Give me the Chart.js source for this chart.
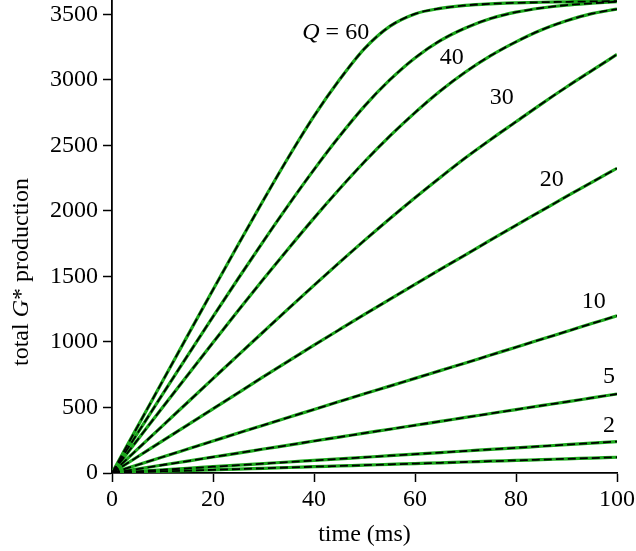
<!DOCTYPE html>
<html>
<head>
<meta charset="utf-8">
<script src="https://cdn.jsdelivr.net/npm/chart.js@4.4.1/dist/chart.umd.min.js"></script>
<style>
    html, body { margin: 0; padding: 0; background: #fff; }
    #wrap { width: 636px; height: 551px; position: relative; }
</style>
</head>
<body>
<div id="wrap"><canvas id="chart" width="636" height="551"></canvas></div>
<script>
// ── Dados ──
const tempos = [0, 5, 10, 15, 20, 25, 30, 35, 40, 45, 50, 55, 60, 65, 70, 75, 80, 85, 90, 95, 100];

const q60 = [0, 350, 700, 1050, 1398, 1743, 2083, 2413, 2723, 2998, 3238, 3408, 3503, 3545, 3568, 3580, 3587, 3592, 3595, 3598, 3600];
const q50 = [0, 300, 600, 898, 1193, 1484, 1770, 2048, 2315, 2567, 2799, 2999, 3167, 3299, 3396, 3468, 3516, 3548, 3570, 3584, 3596];
const q40 = [0, 250, 500, 748, 995, 1240, 1480, 1715, 1945, 2165, 2375, 2570, 2750, 2915, 3060, 3185, 3290, 3380, 3450, 3505, 3540];
const q30 = [0, 180, 360, 540, 720, 900, 1078, 1256, 1432, 1605, 1775, 1940, 2100, 2255, 2405, 2545, 2680, 2815, 2945, 3070, 3194];
const q20 = [0, 122, 245, 367, 490, 612, 735, 855, 975, 1093, 1210, 1325, 1440, 1553, 1665, 1778, 1890, 2000, 2110, 2218, 2325];
const q10 = [0, 61, 122, 183, 244, 305, 365, 425, 485, 545, 605, 663, 722, 781, 840, 900, 960, 1020, 1080, 1140, 1200];
const q5  = [0, 30, 61, 91, 122, 152, 183, 213, 244, 274, 304, 334, 364, 394, 424, 454, 484, 514, 543, 573, 603];
const q2  = [0, 12, 24, 36, 48, 60, 72, 84, 96, 108, 120, 132, 144, 156, 168, 180, 192, 204, 216, 228, 240];
const q1  = [0, 6, 12, 18, 24, 30, 36, 42, 48, 54, 60, 66, 72, 78, 84, 90, 96, 102, 108, 114, 120];

const series = [q60, q50, q40, q30, q20, q10, q5, q2, q1];

const xTicks = [0, 20, 40, 60, 80, 100];
const yTicks = [0, 500, 1000, 1500, 2000, 2500, 3000, 3500];

// rótulos das curvas: texto e posição em coordenadas de dados
const rotulos = [
    { q: true,  txt: '60', t: 44.3, v: 3357 },
    { q: false, txt: '40', t: 67.3, v: 3167 },
    { q: false, txt: '30', t: 77.2, v: 2861 },
    { q: false, txt: '20', t: 87.1, v: 2236 },
    { q: false, txt: '10', t: 95.4, v: 1305 },
    { q: false, txt: '5',  t: 98.4, v: 733 },
    { q: false, txt: '2',  t: 98.4, v: 359 },
];

const VERDE = '#1ca81c';
const FONTE = '"Liberation Serif", "DejaVu Serif", serif';
const TAM = 24;

function pontos(vals) {
    return vals.map((v, i) => ({ x: tempos[i], y: v }));
}

const datasets = [];
series.forEach(vals => {
    datasets.push({
        data: pontos(vals),
        borderColor: '#000',
        borderWidth: 1.8,
        borderDash: [8, 4],
        pointRadius: 0,
        cubicInterpolationMode: 'monotone',
        order: 0,
    });
    datasets.push({
        data: pontos(vals),
        borderColor: VERDE,
        borderWidth: 3.2,
        pointRadius: 0,
        cubicInterpolationMode: 'monotone',
        order: 1,
    });
});

// ── Títulos dos eixos e rótulos das curvas ──
const textos = {
    id: 'textos',
    afterDraw(chart) {
        const { ctx, scales: { x, y }, chartArea } = chart;
        const normal = `${TAM}px ${FONTE}`;
        const italico = `italic ${TAM}px ${FONTE}`;
        ctx.save();
        ctx.fillStyle = '#000';
        ctx.textBaseline = 'middle';

        // eixo x
        ctx.font = normal;
        ctx.textAlign = 'center';
        ctx.fillText('time (ms)', (chartArea.left + chartArea.right) / 2, 535);

        // eixo y (com G em itálico)
        ctx.save();
        ctx.translate(22, 272);
        ctx.rotate(-Math.PI / 2);
        const partes = [['total ', normal], ['G', italico], ['* production', normal]];
        let total = 0;
        partes.forEach(([s, f]) => { ctx.font = f; total += ctx.measureText(s).width; });
        let px = -total / 2;
        ctx.textAlign = 'left';
        partes.forEach(([s, f]) => {
            ctx.font = f;
            ctx.fillText(s, px, 0);
            px += ctx.measureText(s).width;
        });
        ctx.restore();

        // rótulos
        rotulos.forEach(r => {
            const cx = x.getPixelForValue(r.t);
            const cy = y.getPixelForValue(r.v);
            if (r.q) {
                const a = 'Q', b = ' = ' + r.txt;
                ctx.font = italico;
                const wa = ctx.measureText(a).width;
                ctx.font = normal;
                const wb = ctx.measureText(b).width;
                const sx = cx - (wa + wb) / 2;
                ctx.textAlign = 'left';
                ctx.font = italico;
                ctx.fillText(a, sx, cy);
                ctx.font = normal;
                ctx.fillText(b, sx + wa, cy);
            } else {
                ctx.font = normal;
                ctx.textAlign = 'center';
                ctx.fillText(r.txt, cx, cy);
            }
        });
        ctx.restore();
    }
};

new Chart(document.getElementById('chart'), {
    type: 'line',
    data: { datasets },
    plugins: [textos],
    options: {
        responsive: false,
        animation: false,
        events: [],
        layout: { padding: { left: 0, right: 19, top: 0, bottom: 0 } },
        plugins: { legend: { display: false }, tooltip: { enabled: false } },
        scales: {
            x: {
                type: 'linear',
                min: 0,
                max: 100,
                afterBuildTicks: s => { s.ticks = xTicks.map(v => ({ value: v })); },
                afterFit: s => { s.height = 78; s.paddingLeft = 0; s.paddingRight = 0; },
                ticks: {
                    color: '#000',
                    font: { family: FONTE, size: TAM },
                    padding: 3,
                    maxRotation: 0,
                    callback: v => String(v),
                },
                grid: { drawOnChartArea: false, drawTicks: true, tickLength: 9, color: '#000', tickWidth: 1.5 },
                border: { display: true, color: '#000', width: 1.8 },
            },
            y: {
                type: 'linear',
                min: 0,
                max: 3609,
                afterBuildTicks: s => { s.ticks = yTicks.map(v => ({ value: v })); },
                afterFit: s => { s.width = 112; s.paddingTop = 0; s.paddingBottom = 0; },
                ticks: {
                    color: '#000',
                    font: { family: FONTE, size: TAM },
                    padding: 5,
                    callback: v => String(v),
                },
                grid: { drawOnChartArea: false, drawTicks: true, tickLength: 9, color: '#000', tickWidth: 1.5 },
                border: { display: true, color: '#000', width: 1.8 },
            }
        }
    }
});
</script>
</body>
</html>
